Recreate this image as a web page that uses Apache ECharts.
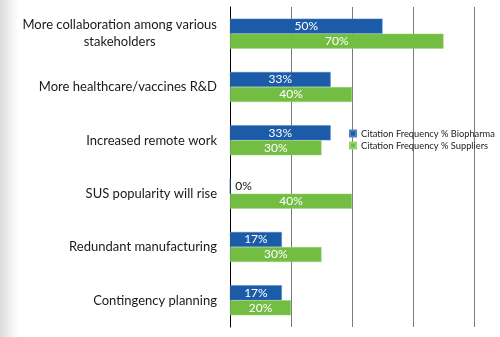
<!DOCTYPE html>
<html><head><meta charset="utf-8">
<script src="https://cdn.jsdelivr.net/npm/echarts@6/dist/echarts.min.js"></script>
<style>html,body{margin:0;padding:0;background:#fff}#c{width:500px;height:337px}</style>
</head><body><div id="c"></div>
<script>
const categories = ['More collaboration among various\nstakeholders','More healthcare/vaccines R&D','Increased remote work','SUS popularity will rise','Redundant manufacturing','Contingency planning'];
const biopharma = [50, 33, 33, 0, 17, 17];
const suppliers = [70, 40, 30, 40, 30, 20];
const seriesNames = ['Citation Frequency % Biopharma','Citation Frequency % Suppliers'];

const chart = echarts.init(document.getElementById('c'));
const font = 'Lato, sans-serif';
const lbl = {show:true, position:'inside', color:'#fff', fontFamily:font, fontSize:12, formatter: p => p.value + '%'};
chart.setOption({
  animation:false,
  backgroundColor:'#fff',
  graphic:[{type:'rect', left:0, top:0, z:-10, shape:{width:18, height:337},
    style:{fill:new echarts.graphic.LinearGradient(0,0,1,0,[{offset:0,color:'#dcdcdc'},{offset:1,color:'#ffffff'}])}}],
  grid:{left:230, right:26, top:7, bottom:10},
  legend:{orient:'vertical', left:349, top:129, padding:0, itemWidth:6, itemHeight:6, itemGap:3, icon:'rect',
    textStyle:{fontFamily:font, fontSize:9.3, color:'#222'}, data:seriesNames},
  xAxis:{type:'value', min:0, max:80, interval:20, axisLabel:{show:false}, axisLine:{show:false}, axisTick:{show:false},
    splitLine:{show:true, lineStyle:{color:'#7a7a7a', width:1}}},
  yAxis:{type:'category', inverse:true, data:categories, axisTick:{show:false},
    axisLine:{show:true, lineStyle:{color:'#000', width:1}},
    axisLabel:{margin:13, fontFamily:font, fontSize:13, color:'#1a1a1a', lineHeight:17,
      formatter: v => v.split('\n').map(s => '{a|'+s+'}').join('\n'),
      rich:{a:{fontFamily:font, fontSize:13, color:'#1a1a1a', lineHeight:17, align:'center'}}}},
  series:[
    {name:seriesNames[0], type:'bar', barWidth:15, barGap:'0%', itemStyle:{color:'#1c5ba7', borderColor:'#4d82c4', borderWidth:0.5},
      label:lbl,
      data: biopharma.map(v => v === 0 ? {value:v, label:{position:'right', color:'#111'}} : v)},
    {name:seriesNames[1], type:'bar', barWidth:15, barGap:'0%', itemStyle:{color:'#73bd43', borderColor:'#9ad27a', borderWidth:0.5},
      label:lbl, data:suppliers}
  ]
});
</script></body></html>
